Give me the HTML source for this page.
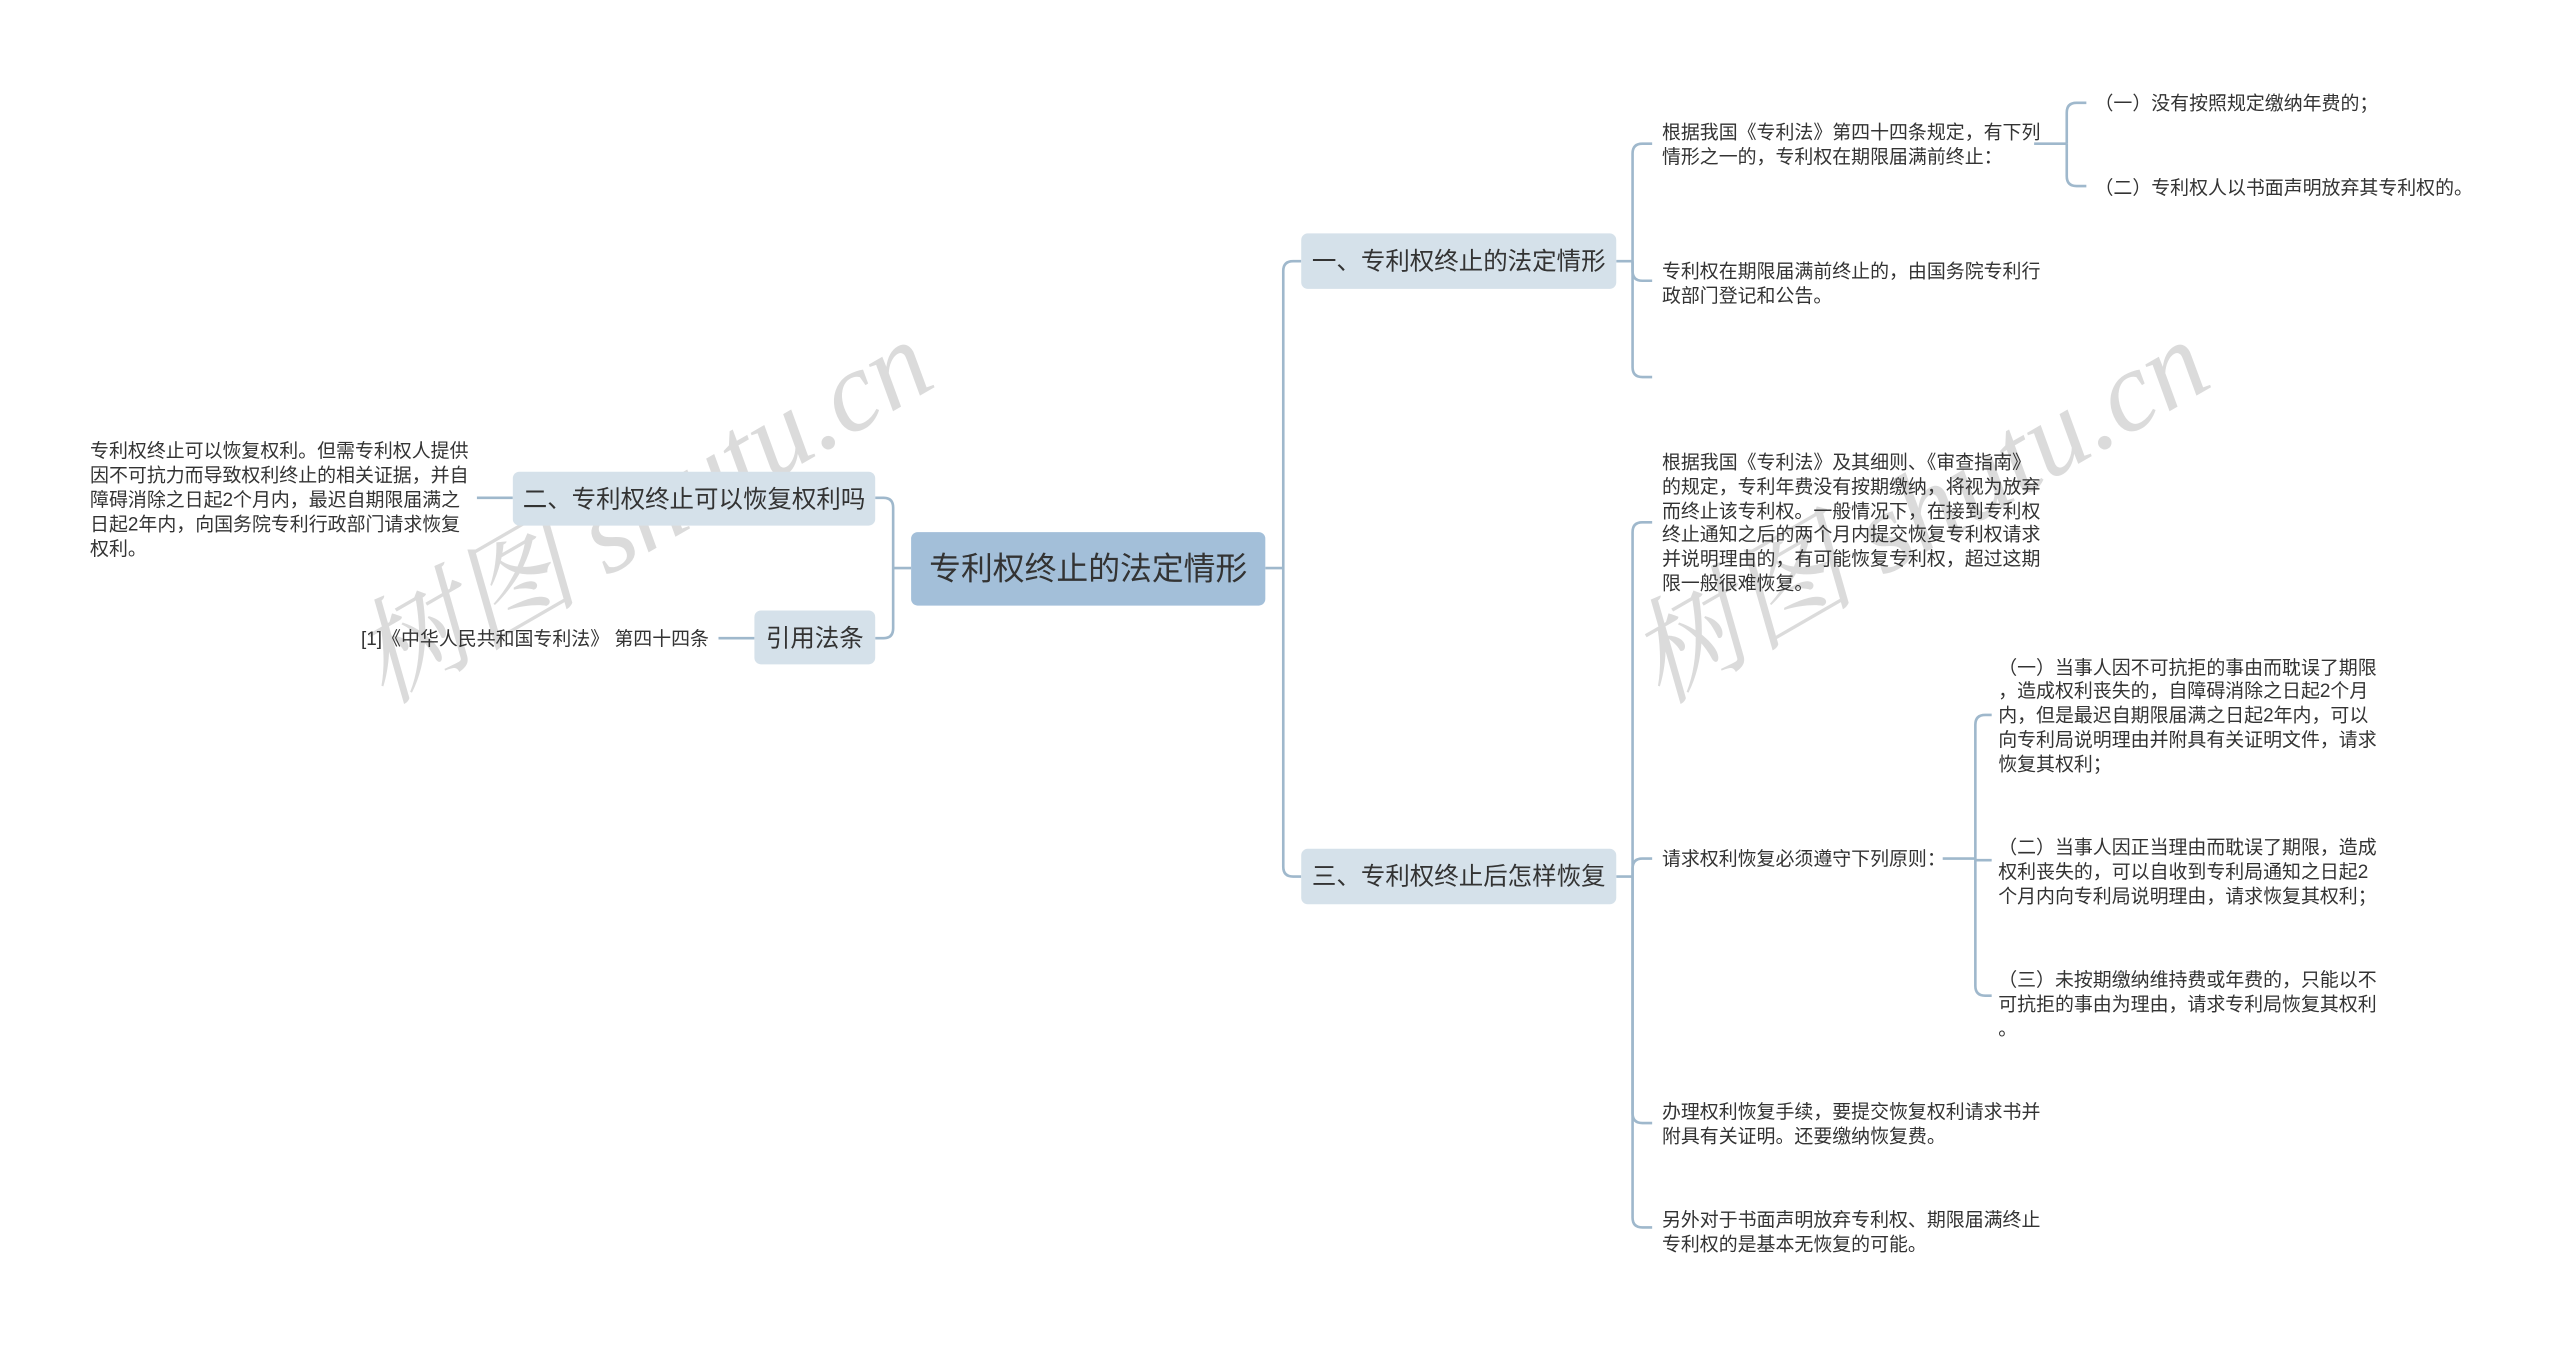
<!DOCTYPE html>
<html><head><meta charset="utf-8">
<style>
html,body{margin:0;padding:0;background:#fff;width:2560px;height:1345px;overflow:hidden}
svg{display:block}
text{font-family:"Liberation Sans","Noto Sans CJK SC",sans-serif;fill:#333}
.lf{font-size:11.6px}
.l1{font-size:15px}
.wm{font-family:"Liberation Serif","Noto Serif CJK SC",serif;font-style:italic;font-size:70px;fill:#d0d0d0;opacity:.75}
</style></head><body>
<svg id="s" width="2560" height="1345" viewBox="0 0 1568 824" xmlns="http://www.w3.org/2000/svg">
<g id="lines" fill="none" stroke="#9fb8cc" stroke-width="1.6"></g>

<text class="wm" transform="translate(235,432) rotate(-30)">树图 shutu.cn</text>
<text class="wm" transform="translate(1017,432) rotate(-30)">树图 shutu.cn</text>

<rect x="558" y="326" width="217" height="45" rx="4" fill="#a3bfd9"/>
<text x="666.5" y="355" text-anchor="middle" style="font-size:19.5px">专利权终止的法定情形</text>

<rect x="797" y="143" width="193" height="34" rx="4" fill="#d5e1ea"/>
<text class="l1" x="893.5" y="165" text-anchor="middle">一、专利权终止的法定情形</text>
<rect x="797" y="520" width="193" height="34" rx="4" fill="#d5e1ea"/>
<text class="l1" x="893.5" y="542" text-anchor="middle">三、专利权终止后怎样恢复</text>
<rect x="314" y="289" width="222" height="33" rx="4" fill="#d5e1ea"/>
<text class="l1" x="425" y="311" text-anchor="middle">二、专利权终止可以恢复权利吗</text>
<rect x="462" y="374" width="74" height="33" rx="4" fill="#d5e1ea"/>
<text class="l1" x="499" y="396" text-anchor="middle">引用法条</text>

<g class="lf">
<text x="1018" y="85">根据我国《专利法》第四十四条规定，有下列</text>
<text x="1018" y="100">情形之一的，专利权在期限届满前终止：</text>
<text x="1283" y="67">（一）没有按照规定缴纳年费的；</text>
<text x="1283" y="119">（二）专利权人以书面声明放弃其专利权的。</text>
<text x="1018" y="170">专利权在期限届满前终止的，由国务院专利行</text>
<text x="1018" y="185">政部门登记和公告。</text>

<text x="1018" y="287">根据我国《专利法》及其细则、《审查指南》</text>
<text x="1018" y="302">的规定，专利年费没有按期缴纳，将视为放弃</text>
<text x="1018" y="317">而终止该专利权。一般情况下，在接到专利权</text>
<text x="1018" y="331">终止通知之后的两个月内提交恢复专利权请求</text>
<text x="1018" y="346">并说明理由的，有可能恢复专利权，超过这期</text>
<text x="1018" y="361">限一般很难恢复。</text>

<text x="1018" y="530">请求权利恢复必须遵守下列原则：</text>

<text x="1224" y="413">（一）当事人因不可抗拒的事由而耽误了期限</text>
<text x="1224" y="427">，造成权利丧失的，自障碍消除之日起2个月</text>
<text x="1224" y="442">内，但是最迟自期限届满之日起2年内，可以</text>
<text x="1224" y="457">向专利局说明理由并附具有关证明文件，请求</text>
<text x="1224" y="472">恢复其权利；</text>

<text x="1224" y="523">（二）当事人因正当理由而耽误了期限，造成</text>
<text x="1224" y="538">权利丧失的，可以自收到专利局通知之日起2</text>
<text x="1224" y="553">个月内向专利局说明理由，请求恢复其权利；</text>

<text x="1224" y="604">（三）未按期缴纳维持费或年费的，只能以不</text>
<text x="1224" y="619">可抗拒的事由为理由，请求专利局恢复其权利</text>
<text x="1224" y="634">。</text>

<text x="1018" y="685">办理权利恢复手续，要提交恢复权利请求书并</text>
<text x="1018" y="700">附具有关证明。还要缴纳恢复费。</text>
<text x="1018" y="751">另外对于书面声明放弃专利权、期限届满终止</text>
<text x="1018" y="766">专利权的是基本无恢复的可能。</text>

<text x="55" y="280">专利权终止可以恢复权利。但需专利权人提供</text>
<text x="55" y="295">因不可抗力而导致权利终止的相关证据，并自</text>
<text x="55" y="310">障碍消除之日起2个月内，最迟自期限届满之</text>
<text x="55" y="325">日起2年内，向国务院专利行政部门请求恢复</text>
<text x="55" y="340">权利。</text>
<text x="221" y="395">[1]《中华人民共和国专利法》 第四十四条</text>
</g>
</svg>
<script>
var g=document.getElementById('lines');
function P(d){var p=document.createElementNS('http://www.w3.org/2000/svg','path');p.setAttribute('d',d);g.appendChild(p);}
function br(px,py,bx,cx,ys,dir){
 dir=dir||1;
 P('M'+px+','+py+' L'+bx+','+py);
 ys.forEach(function(cy){
  var r=Math.min(6,Math.abs(cy-py));
  if(r<1){P('M'+bx+','+cy+' L'+cx+','+cy);return;}
  var s=cy>py?1:-1;
  P('M'+bx+','+py+' L'+bx+','+(cy-s*r)+' Q'+bx+','+cy+' '+(bx+dir*r)+','+cy+' L'+cx+','+cy);
 });
}
br(775,348,786,797,[160,537]);
br(558,348,547,536,[305,391],-1);
br(990,160,1000,1012,[88,172,231]);
br(1246,88,1266,1278,[63,114]);
br(990,537,1000,1012,[320,526,688,752]);
br(1190,526,1210,1220,[438,527,610]);
P('M292,305 L314,305');
P('M440,391 L462,391');
</script>
</body></html>
